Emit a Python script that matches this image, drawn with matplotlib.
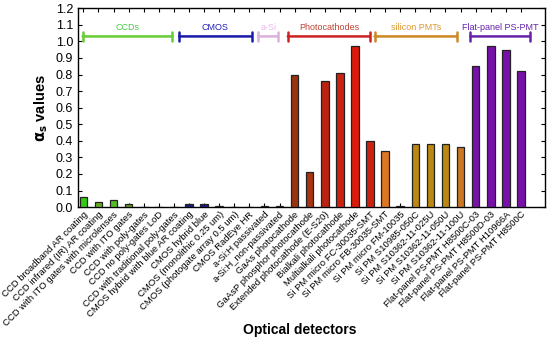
import matplotlib
matplotlib.use("Agg")
import matplotlib.pyplot as plt

plt.rcParams['font.family'] = ['Liberation Sans', 'DejaVu Sans']

labels = [
    "CCD broadband AR coating", "CCD infrared (IR) AR coating",
    "CCD with ITO gates with microlenses", "CCD with ITO gates",
    "CCD with poly-gates", "CCD no poly-gates LoD",
    "CCD with traditional poly-gates", "CMOS hybrid with blue AR coating",
    "CMOS hybrid blue", "CMOS (monolithic 0.25 um)",
    "CMOS (photogate array 0.5 um)", "CMOS RadEye HR",
    "a-Si:H passivated", "a-Si:H_non-passivated",
    "GaAs photocathode", "GaAsP phosphor photocathode",
    "Extended photocathode (E-S20)", "Bialkali photocathode",
    "Multialkali photocathode", "Si PM micro FC-30035-SMT",
    "Si PM micro FB-30035-SMT", "Si PM micro FM-10035",
    "Si PM S10985-050C", "Si PM S10362-11-025U",
    "Si PM S10362-11-050U", "Si PM S10362-11-100U",
    "Flat-panel PS-PMT H8500C-03", "Flat-panel PS-PMT H8500D-03",
    "Flat-panel PS-PMT H10966A", "Flat-panel PS-PMT H8500C",
]
values = [0.06, 0.03, 0.04, 0.02, 0.003, 0.003, 0.003, 0.02, 0.02, 0.005,
          0.003, 0.003, 0.007, 0.007, 0.80, 0.21, 0.76, 0.81, 0.97, 0.40,
          0.34, 0.005, 0.38, 0.38, 0.38, 0.36, 0.85, 0.97, 0.95, 0.82]
colors = ["#33cc11", "#66aa22", "#55bb22", "#669922", "#556b2f", "#556b2f",
          "#556b2f", "#1a1a80", "#1a1a80", "#333366", "#333366", "#333366",
          "#553355", "#553355", "#993311", "#aa3311", "#bb2211", "#cc2211",
          "#dd1a0a", "#cc2211", "#dd7722", "#885522", "#bb8811", "#bb8811",
          "#bb8811", "#cc7722", "#7711aa", "#7711aa", "#7711aa", "#7711aa"]

groups = ["CCDs", "CMOS", "a-Si", "Photocathodes", "silicon PMTs", "Flat-panel PS-PMT"]
group_start = [-0.05, 6.35, 11.6, 13.55, 19.3, 25.65]
group_end = [5.9, 11.15, 12.9, 19.0, 24.75, 29.6]
group_line_colors = ["#66cc33", "#1a1aaa", "#ddb0dd", "#cc2222", "#cc8822", "#6622aa"]
group_text_colors = ["#44cc44", "#2222bb", "#eeb8ee", "#bb4433", "#dd9933", "#6622aa"]

fig = plt.figure(figsize=(5.5, 3.44), dpi=100)
ax = fig.add_axes([0.142, 0.398, 0.849, 0.578])

x = list(range(len(values)))
ax.bar(x, values, width=0.5, color=colors, edgecolor="#222222", linewidth=0.9, zorder=3)

for name, s, e, lc, tc in zip(groups, group_start, group_end, group_line_colors, group_text_colors):
    ax.annotate("", xy=(s, 1.03), xytext=(e, 1.03),
                arrowprops=dict(arrowstyle="|-|", color=lc, lw=1.8,
                                mutation_scale=3.5, shrinkA=0, shrinkB=0))
    ax.text((s + e) / 2, 1.055, name, color=tc, fontsize=6.5,
            ha="center", va="bottom")

ax.set_xlim(-0.35, 30.6)
ax.set_ylim(0, 1.2)
ax.set_yticks([i / 10 for i in range(13)])
ax.set_yticklabels([f"{i / 10:.1f}" for i in range(13)], fontsize=9)
ax.set_xticks(x)
ax.set_xticklabels(labels, rotation=45, ha="right", rotation_mode="anchor", fontsize=6.8)
ax.tick_params(direction="in", top=True, right=True, length=3, width=0.8)
ax.tick_params(axis="x", pad=2)
for sp in ax.spines.values():
    sp.set_linewidth(1.0)

ax.set_ylabel(r"$\mathbf{\alpha_s}$ values", fontsize=10.5, fontweight="bold", labelpad=4)
fig.text(0.545, 0.03, "Optical detectors", fontsize=10, fontweight="bold", ha="center")

fig.savefig("out.png", dpi=100)
